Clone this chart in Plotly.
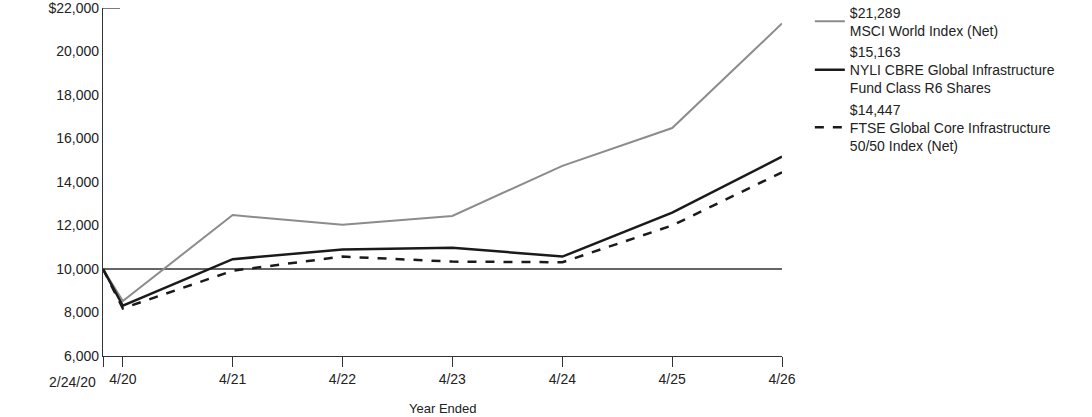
import plotly.graph_objects as go

dates = ["2020-02-24", "2020-04-30", "2021-04-30", "2022-04-30", "2023-04-30",
         "2024-04-30", "2025-04-30", "2026-04-30"]
tick_text = ["", "4/20", "4/21", "4/22", "4/23", "4/24", "4/25", "4/26"]
start_label = "2/24/20"

msci = [10000, 8530, 12480, 12030, 12440, 14740, 16480, 21289]
nyli = [10000, 8310, 10450, 10900, 10980, 10570, 12590, 15163]
ftse = [10000, 8190, 9920, 10570, 10340, 10310, 12000, 14447]

names = [
    "$21,289<br>MSCI World Index (Net)",
    "$15,163<br>NYLI CBRE Global Infrastructure<br>Fund Class R6 Shares",
    "$14,447<br>FTSE Global Core Infrastructure<br>50/50 Index (Net)",
]

y_ticks = [6000, 8000, 10000, 12000, 14000, 16000, 18000, 20000, 22000]
y_text = ["6,000", "8,000", "10,000", "12,000", "14,000", "16,000", "18,000", "20,000", "$22,000"]

fig = go.Figure()
fig.add_trace(go.Scatter(x=dates, y=msci, mode="lines", name=names[0],
                         line=dict(color="#8c8c8c", width=2)))
fig.add_trace(go.Scatter(x=dates, y=nyli, mode="lines", name=names[1],
                         line=dict(color="#1a1a1a", width=2.5)))
fig.add_trace(go.Scatter(x=dates, y=ftse, mode="lines", name=names[2],
                         line=dict(color="#1a1a1a", width=2.5, dash="dash")))

fig.add_shape(type="line", xref="paper", yref="y", x0=0, x1=1, y0=10000, y1=10000,
              line=dict(color="#333333", width=1.3), layer="below")
fig.add_shape(type="line", xref="paper", yref="y", x0=0, x1=0.025, y0=22000, y1=22000,
              line=dict(color="#333333", width=1.3))

fig.add_annotation(x=dates[0], y=0, xref="x", yref="paper", text=start_label,
                   showarrow=False, xanchor="right", yanchor="top", xshift=-5, yshift=-16,
                   font=dict(size=14))
fig.add_annotation(x=0.5, y=0, xref="paper", yref="paper", text="Year Ended",
                   showarrow=False, xanchor="center", yanchor="middle", yshift=-52,
                   font=dict(size=13))

font = "Liberation Sans, Arial, sans-serif"
fig.update_layout(
    width=1092, height=417,
    margin=dict(l=103, r=310, t=8, b=61, autoexpand=False),
    paper_bgcolor="white", plot_bgcolor="white",
    font=dict(family=font, size=14, color="#222222"),
    showlegend=True,
    legend=dict(x=1.041, y=1.033, xanchor="left", yanchor="top",
                font=dict(size=14), valign="middle", tracegroupgap=2,
                bgcolor="rgba(0,0,0,0)"),
    xaxis=dict(type="date", range=["2020-02-24", "2026-04-30"],
               tickvals=dates, ticktext=tick_text, ticks="outside", ticklen=10,
               tickcolor="#333333", showline=True, linecolor="#333333", linewidth=1.3,
               showgrid=False, zeroline=False, tickfont=dict(size=14), tickangle=0,
               automargin=False),
    yaxis=dict(range=[6000, 22000], tickvals=y_ticks, ticktext=y_text,
               showline=True, linecolor="#333333", linewidth=1.3, ticks="",
               showgrid=False, zeroline=False, tickfont=dict(size=14),
               automargin=False, ticklabeloverflow="allow"),
)

fig.write_html("out.html")
